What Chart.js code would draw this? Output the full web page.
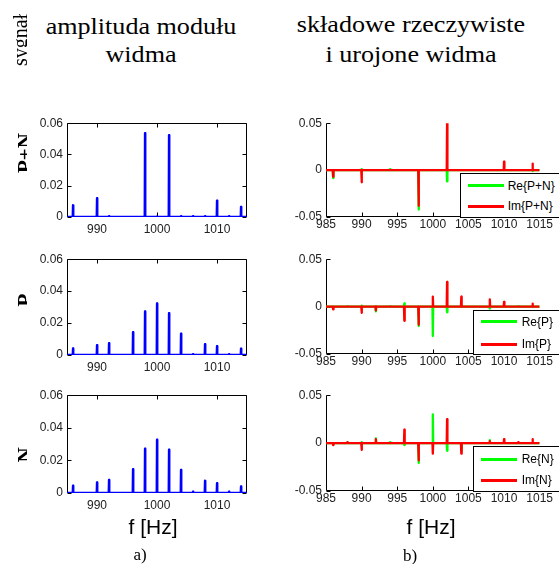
<!DOCTYPE html>
<html><head><meta charset="utf-8">
<script src="https://cdn.jsdelivr.net/npm/chart.js@4.4.1/dist/chart.umd.min.js"></script>
<style>
html,body{margin:0;padding:0;background:#fff;}
body{width:559px;height:564px;position:relative;overflow:hidden;}
canvas{position:absolute;}
.t{position:absolute;white-space:nowrap;color:#000;}
.serif{font-family:"Liberation Serif","Times New Roman",serif;}
.sans{font-family:"Liberation Sans",Arial,sans-serif;}
.clip{position:absolute;top:0;height:564px;overflow:hidden;}
.rot{position:absolute;width:200px;text-align:center;transform-origin:0 0;transform:rotate(-90deg);}
.leg{position:absolute;background:#fff;border:1px solid #000;box-sizing:border-box;}
.legline{position:absolute;height:3px;}
</style>
</head><body>
<script>
// ---- data ----
const freqs = [986,988,990,992,994,996,998,1000,1002,1004,1006,1008,1010,1012,1014];
const ampPN = [0.0075,0,0.012,0.0005,0,0,0.0537,0.0003,0.0524,0.0005,0.0005,0.0005,0.0105,0.0005,0.0065];
const ampP  = [0.0041,0,0.0062,0.0074,0,0.0143,0.0273,0.0323,0.0262,0.0134,0.0005,0.0068,0.0056,0.0005,0.004];
const ampN  = [0.0045,0,0.0065,0.008,0,0.0146,0.0272,0.0327,0.0266,0.0142,0.0008,0.0075,0.006,0.0008,0.004];
const rePN = [-0.0085,0,0.001,0,0.001,0,-0.042,0,-0.012,0,0,0,0,0,-0.001];
const imPN = [-0.007,0,-0.013,0,0,0,-0.038,0,0.05,0,0,0,0.009,0,0.007];
const reP  = [-0.001,0.0005,0.001,-0.005,0.0005,0.0035,-0.0205,-0.031,-0.006,0.001,0,-0.002,0,0.0005,0];
const imP  = [-0.003,0,-0.0066,-0.004,0,-0.015,-0.019,0.0104,0.026,0.0104,0,0.0076,0.005,0,0.003];
const reN  = [-0.001,0.001,0.001,0.005,0.001,-0.002,-0.0208,0.03,-0.008,-0.008,0,0.003,0,0,0];
const imN  = [-0.002,0.001,-0.007,0.004,0,0.014,-0.018,-0.011,0.025,-0.011,0,0.002,0.004,0.001,0.004];
const fMin = 985, fMax = 1015;
const leftXTicks = [990,1000,1010];
const leftYTicks = [0,0.02,0.04,0.06];
const rightXTicks = [985,990,995,1000,1005,1010,1015];
const rightYTicks = [-0.05,0,0.05];
const rowLabels = ['P+N','P','N'];
const legendLabels = [['Re{P+N}','Im{P+N}'],['Re{P}','Im{P}'],['Re{N}','Im{N}']];

// ---- helpers ----
function spikes(vals){
  const pts=[{x:fMin,y:0}];
  freqs.forEach((f,i)=>{pts.push({x:f-0.05,y:0},{x:f,y:vals[i]},{x:f+0.05,y:0});});
  pts.push({x:fMax,y:0});
  return pts;
}
const frame = {
  id:'frame',
  beforeDatasetsDraw(chart){
    const o = chart.options.plugins.frame; const ctx=chart.ctx; const a=chart.chartArea;
    const xs=chart.scales.x, ys=chart.scales.y, L=4;
    ctx.save(); ctx.strokeStyle='#000'; ctx.lineWidth=1; ctx.beginPath();
    const l=Math.round(a.left)+0.5, r=Math.round(a.right)-0.5, t=Math.round(a.top)+0.5, b=Math.round(a.bottom)-0.5;
    if(o.box){ ctx.rect(l,t,r-l,b-t); }
    else { ctx.moveTo(l,t); ctx.lineTo(l,b); ctx.lineTo(r,b); }
    xs.ticks.forEach(tk=>{const p=Math.round(xs.getPixelForValue(tk.value))+0.5;
      ctx.moveTo(p,b); ctx.lineTo(p,b-L); if(o.box){ctx.moveTo(p,t); ctx.lineTo(p,t+L);} });
    ys.ticks.forEach(tk=>{const p=Math.round(ys.getPixelForValue(tk.value))+0.5;
      ctx.moveTo(l,p); ctx.lineTo(l+L,p); if(o.box){ctx.moveTo(r,p); ctx.lineTo(r-L,p);} });
    ctx.stroke(); ctx.restore();
  }
};
function mkCanvas(left,top,w,h){
  const c=document.createElement('canvas'); c.width=w; c.height=h;
  c.style.left=left+'px'; c.style.top=top+'px'; c.style.width=w+'px'; c.style.height=h+'px';
  document.body.appendChild(c); return c;
}
function makeChart(opt){
  const {left,plotLeft,plotRight,T,B,datasets,xt,yt,ymin,ymax,box,xpad} = opt;
  const yw = plotLeft-left, padTop=10, padRight=10, xh=25;
  const w = plotRight-left+padRight, h = (B-T)+padTop+xh;
  const c = mkCanvas(left,T-padTop,w,h);
  return new Chart(c,{
    type:'line',
    data:{datasets},
    options:{
      responsive:false, animation:false, devicePixelRatio:1,
      layout:{autoPadding:false,padding:{top:padTop,right:padRight,left:0,bottom:0}},
      plugins:{legend:{display:false},tooltip:{enabled:false},frame:{box}},
      elements:{point:{radius:0},line:{tension:0,borderJoinStyle:'round'}},
      scales:{
        x:{type:'linear',min:fMin,max:fMax,
           afterBuildTicks:s=>{s.ticks=xt.map(v=>({value:v}));},
           afterFit:s=>{s.height=xh;},
           grid:{display:false,drawTicks:false},border:{display:false},
           ticks:{padding:xpad,maxRotation:0,autoSkip:false,color:'#222',
             font:{family:'"Liberation Sans", Arial, sans-serif',size:12},callback:v=>String(v)}},
        y:{type:'linear',min:ymin,max:ymax,
           afterBuildTicks:s=>{s.ticks=yt.map(v=>({value:v}));},
           afterFit:s=>{s.width=yw;},
           grid:{display:false,drawTicks:false},border:{display:false},
           ticks:{padding:4,color:'#222',
             font:{family:'"Liberation Sans", Arial, sans-serif',size:12},callback:v=>String(v)}}
      }
    },
    plugins:[frame]
  });
}

const leftRows=[{T:122,B:217,v:ampPN},{T:258,B:355,v:ampP},{T:394,B:493,v:ampN}];
leftRows.forEach(r=>{
  makeChart({left:22,plotLeft:67,plotRight:247,T:r.T,B:r.B,xt:leftXTicks,yt:leftYTicks,ymin:0,ymax:0.06,box:true,xpad:5,
    datasets:[{data:spikes(r.v),borderColor:'#0000ff',borderWidth:2.3}]});
});
const rightRows=[{T:122,B:217,re:rePN,im:imPN},{T:258,B:354,re:reP,im:imP},{T:394,B:491,re:reN,im:imN}];
rightRows.forEach((r,i)=>{
  makeChart({left:276,plotLeft:326,plotRight:543,T:r.T,B:r.B,xt:rightXTicks,yt:rightYTicks,ymin:-0.05,ymax:0.05,box:false,xpad:0,
    datasets:[
      {label:legendLabels[i][0],data:spikes(r.re),borderColor:'#00ff00',borderWidth:2.3,order:2},
      {label:legendLabels[i][1],data:spikes(r.im),borderColor:'#ff0000',borderWidth:2.3,order:1}
    ]});
});

// ---- text ----
function txt(s,cls,cx,baseline,F,extra){
  const d=document.createElement('div'); d.className='t '+cls; d.textContent=s;
  d.style.fontSize=F+'px'; d.style.lineHeight=F+'px';
  d.style.left=cx+'px'; d.style.top=(baseline-F/2-0.34*F)+'px';
  d.style.transform='translateX(-50%)'+(extra||'');
  d.style.transformOrigin='50% 50%';
  document.body.appendChild(d); return d;
}
txt('amplituda modułu','serif',141,35,22.5,' scaleX(1.16)');
txt('widma','serif',141,63,22.5,' scaleX(1.16)');
txt('składowe rzeczywiste','serif',411,33,22.5,' scaleX(1.16)');
txt('i urojone widma','serif',411,63,22.5,' scaleX(1.16)');
txt('f [Hz]','sans',153,534,21);
txt('f [Hz]','sans',431,534,21);
txt('a)','serif',140,560,17);
txt('b)','serif',410,561,17);

// rotated labels, clipped on the right (baseline side) as in the original
function rotLabel(s,clipL,clipR,baseX,cy,F,bold){
  const c=document.createElement('div'); c.className='clip'; c.style.left=clipL+'px'; c.style.width=(clipR-clipL)+'px';
  const d=document.createElement('div'); d.className='rot serif'; d.textContent=s;
  d.style.fontSize=F+'px'; d.style.lineHeight=F+'px'; if(bold) d.style.fontWeight='bold';
  const b=F/2+0.3375*F;
  d.style.left=(baseX-clipL-b)+'px'; d.style.top=(cy+100)+'px';
  c.appendChild(d); document.body.appendChild(c);
}
rotLabel('sygnał',0,27,26.5,40,20,false);
rotLabel(rowLabels[0],0,27,33,153,21,true);
rotLabel(rowLabels[1],0,27,33,300,21,true);
rotLabel(rowLabels[2],0,27,33,455,21,true);

// ---- legends ----
const legs=[{x:460,top:173,bot:218,l1:185.7,l2:206,lx0:468,lx1:504,tx:507.7},
            {x:473,top:310,bot:355,l1:321.7,l2:344,lx0:481,lx1:517,tx:521.7},
            {x:473,top:446,bot:492,l1:459.3,l2:480,lx0:481,lx1:517,tx:521.7}];
legs.forEach((g,i)=>{
  const b=document.createElement('div'); b.className='leg';
  b.style.left=g.x+'px'; b.style.top=g.top+'px'; b.style.width=(600-g.x)+'px'; b.style.height=(g.bot-g.top)+'px';
  document.body.appendChild(b);
  [[g.l1,'#00ff00',legendLabels[i][0]],[g.l2,'#ff0000',legendLabels[i][1]]].forEach(([ly,col,lab])=>{
    const ln=document.createElement('div'); ln.className='legline'; ln.style.background=col;
    ln.style.left=g.lx0+'px'; ln.style.width=(g.lx1-g.lx0)+'px'; ln.style.top=(ly-1.5)+'px';
    document.body.appendChild(ln);
    const t=document.createElement('div'); t.className='t sans'; t.textContent=lab;
    t.style.fontSize='12px'; t.style.lineHeight='12px'; t.style.left=g.tx+'px'; t.style.top=(ly-6)+'px';
    document.body.appendChild(t);
  });
});
</script>
</body></html>
